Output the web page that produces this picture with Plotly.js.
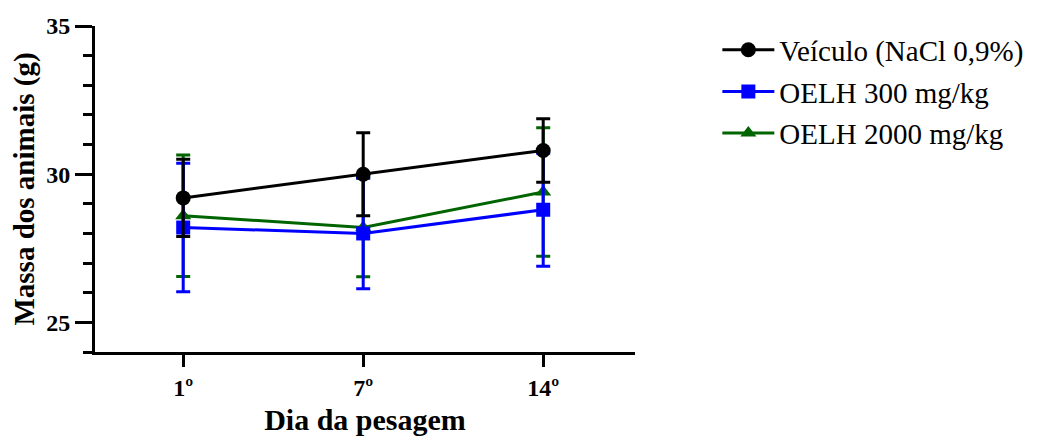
<!DOCTYPE html>
<html>
<head>
<meta charset="utf-8">
<script src="https://cdn.plot.ly/plotly-3.0.1.min.js"></script>
<style>html,body{margin:0;padding:0;background:#fff;}#chart{width:1041px;height:436px;}</style>
</head>
<body>
<div id="chart"></div>
<script>
const days = ['1º', '7º', '14º'];
const seriesNames = ['Veículo (NaCl 0,9%)', 'OELH 300 mg/kg', 'OELH 2000 mg/kg'];
const veiculoMean = [29.2, 30.0, 30.8];
const veiculoErr = [1.3, 1.4, 1.07];
const oelh300Mean = [28.2, 28.0, 28.8];
const oelh300Err = [2.17, 1.87, 1.91];
const oelh2000Mean = [28.6, 28.2, 29.4];
const oelh2000Err = [2.05, 1.66, 2.17];

const serif = 'Liberation Serif, Times New Roman, serif';

function mk(name, y, err, color, symbol, size, rank) {
  return {
    type: 'scatter', mode: 'lines+markers', name: name, x: days, y: y,
    legendrank: rank, legendgroup: 'g' + rank,
    line: {color: color, width: 3},
    marker: {color: color, symbol: symbol, size: size},
    error_y: {type: 'data', array: err, visible: true, color: color, thickness: 3, width: 7},
    cliponaxis: false
  };
}

const data = [
  mk(seriesNames[2], oelh2000Mean, oelh2000Err, '#006400', 'triangle-up', 14, 3),
  mk(seriesNames[1], oelh300Mean, oelh300Err, '#0000ff', 'square', 14, 2),
  mk(seriesNames[0], veiculoMean, veiculoErr, '#000000', 'circle', 15, 1)
];

const layout = {
  width: 1041, height: 436,
  margin: {l: 95, r: 404, t: 26, b: 84},
  paper_bgcolor: '#fff', plot_bgcolor: '#fff',
  showlegend: true,
  legend: {
    x: 1.1525, y: 1.005, xanchor: 'left', yanchor: 'top',
    font: {family: serif, size: 29, color: '#000'},
    traceorder: 'grouped', tracegroupgap: 1, itemwidth: 52
  },
  xaxis: {
    type: 'category', range: [-0.49, 2.51],
    showline: true, linewidth: 3, linecolor: '#000',
    ticks: 'outside', ticklen: 12, tickwidth: 3, tickcolor: '#000',
    showgrid: false, zeroline: false,
    tickfont: {family: serif, size: 24, color: '#000', weight: 'bold'},
    title: {text: 'Dia da pesagem', font: {family: serif, size: 30, color: '#000', weight: 'bold'}, standoff: 19}
  },
  yaxis: {
    range: [24, 35], tickmode: 'linear', tick0: 25, dtick: 5,
    showline: true, linewidth: 3, linecolor: '#000',
    ticks: 'outside', ticklen: 17, tickwidth: 3, tickcolor: '#000',
    minor: {dtick: 1, ticks: 'outside', ticklen: 9, tickwidth: 3, tickcolor: '#000', showgrid: false},
    showgrid: false, zeroline: false,
    tickfont: {family: serif, size: 24, color: '#000', weight: 'bold'},
    title: {text: 'Massa dos animais (g)', font: {family: serif, size: 29, color: '#000', weight: 'bold'}, standoff: 4}
  }
};

Plotly.newPlot('chart', data, layout, {displayModeBar: false, staticPlot: true});
</script>
</body>
</html>
